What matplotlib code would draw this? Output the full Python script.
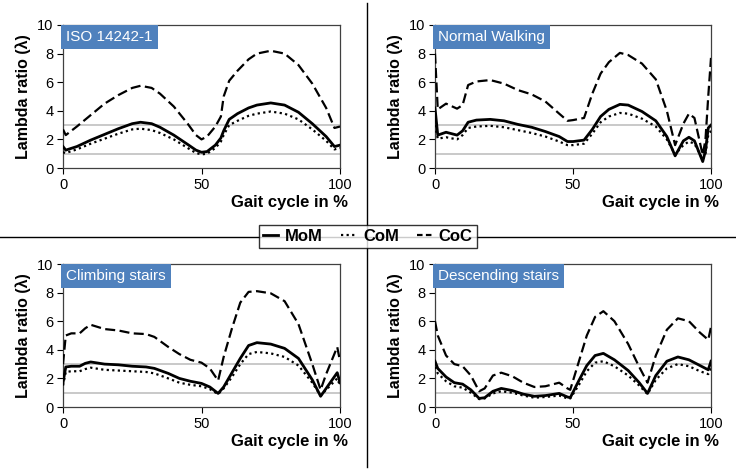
import matplotlib
matplotlib.use("Agg")
import matplotlib.pyplot as plt
from matplotlib.lines import Line2D

plt.rcParams['font.family'] = ['Liberation Sans', 'DejaVu Sans']

# ISO 14242-1
iso_x = [0, 1, 5, 10, 15, 20, 25, 28, 32, 35, 40, 45, 48, 50, 52, 55, 57, 58, 60, 63, 67, 70, 75, 80, 85, 90, 95, 98, 100]
iso_mom = [1.5, 1.25, 1.5, 1.95, 2.35, 2.75, 3.1, 3.2, 3.1, 2.85, 2.3, 1.65, 1.25, 1.1, 1.15, 1.6, 2.1, 2.6, 3.4, 3.8, 4.2, 4.4, 4.55, 4.4, 3.9, 3.1, 2.2, 1.5, 1.6]
iso_com = [1.1, 1.05, 1.3, 1.7, 2.05, 2.4, 2.7, 2.75, 2.65, 2.45, 2.0, 1.4, 1.05, 0.95, 1.0, 1.4, 1.85, 2.3, 3.0, 3.3, 3.65, 3.8, 3.95, 3.8, 3.4, 2.7, 1.9, 1.3, 1.4]
iso_coc = [2.7, 2.3, 2.9, 3.7, 4.5, 5.1, 5.6, 5.75, 5.6, 5.2, 4.3, 3.1, 2.3, 2.0, 2.2, 2.9, 3.6, 5.0, 6.1, 6.8, 7.6, 8.0, 8.2, 8.0, 7.2, 5.9, 4.2, 2.8, 2.9]

# Normal Walking
walk_x = [0, 1, 4, 8, 10, 12, 15, 20, 25, 30, 35, 40, 45, 48, 50, 54, 57, 60, 63, 67, 70, 75, 80, 84, 87, 90, 92, 94, 97, 98, 99, 100]
walk_mom = [4.2, 2.3, 2.5, 2.3, 2.6, 3.2, 3.35, 3.4, 3.3, 3.05, 2.85, 2.55, 2.2, 1.85, 1.85, 1.95, 2.7, 3.6, 4.1, 4.45, 4.4, 3.95, 3.3, 2.2, 0.85, 1.9, 2.15, 1.9, 0.45, 1.2, 2.8, 3.0]
walk_com = [3.0, 2.05, 2.15, 2.0, 2.3, 2.8, 2.9, 2.95, 2.85, 2.65, 2.45, 2.2, 1.85, 1.6, 1.6, 1.7, 2.4, 3.2, 3.6, 3.85, 3.8, 3.45, 2.9, 2.0, 0.95, 1.6, 1.85, 1.7, 0.6, 1.0, 2.3, 2.6]
walk_coc = [8.0, 4.1, 4.5, 4.15, 4.4, 5.8, 6.05, 6.15, 5.9, 5.45, 5.15, 4.65, 3.8, 3.3, 3.35, 3.5, 5.2, 6.6, 7.4, 8.05, 7.9, 7.3, 6.2, 4.0, 1.6, 3.1, 3.8, 3.5, 0.9, 2.0, 5.0, 7.7]

# Climbing stairs
up_x = [0, 1, 3, 6, 8, 10, 15, 20, 25, 30, 33, 38, 42, 46, 50, 53, 56, 58, 61, 64, 67, 70, 75, 80, 85, 90, 93, 95, 99, 100]
up_mom = [1.7, 2.8, 2.85, 2.85, 3.05, 3.15, 3.0, 2.95, 2.85, 2.8, 2.7, 2.35, 2.0, 1.8, 1.65, 1.4, 0.95, 1.4, 2.4, 3.4, 4.3, 4.5, 4.4, 4.1, 3.4, 1.9, 0.75, 1.3, 2.4, 1.7]
up_com = [1.5, 2.45, 2.5, 2.5, 2.65, 2.75, 2.6, 2.55, 2.5, 2.45, 2.35, 2.0, 1.7, 1.55, 1.45, 1.25, 0.9, 1.3, 2.1, 3.0, 3.7, 3.85, 3.75, 3.5, 2.9, 1.7, 0.8, 1.2, 2.0, 1.5]
up_coc = [3.0, 5.0, 5.15, 5.15, 5.5, 5.75, 5.45, 5.35, 5.15, 5.1, 4.9, 4.2, 3.7, 3.3, 3.1, 2.7, 1.85, 3.5, 5.5, 7.3, 8.05, 8.1, 7.95, 7.4, 5.8, 3.0, 1.2, 2.3, 4.2, 3.2]

# Descending stairs
down_x = [0, 1, 4, 7, 10, 13, 16, 18, 21, 24, 28, 32, 36, 40, 45, 48, 49, 52, 55, 58, 61, 65, 70, 74, 77, 80, 84, 88, 92, 96, 99, 100]
down_mom = [3.2, 2.7, 2.1, 1.7, 1.6, 1.2, 0.6, 0.65, 1.1, 1.3, 1.15, 0.9, 0.75, 0.8, 0.95, 0.7, 0.65, 1.8, 2.9, 3.6, 3.75, 3.3, 2.55, 1.7, 0.95, 2.2, 3.2, 3.5, 3.3, 2.9, 2.6, 3.2]
down_com = [2.8, 2.35, 1.8, 1.45, 1.35, 1.0, 0.55, 0.6, 0.95, 1.1, 1.0, 0.8, 0.65, 0.7, 0.8, 0.6, 0.6, 1.5, 2.5, 3.1, 3.2, 2.85, 2.2, 1.5, 0.9, 1.9, 2.7, 3.0, 2.85, 2.5, 2.3, 2.7]
down_coc = [6.0, 5.0, 3.6, 3.0, 2.85, 2.2, 1.1, 1.3, 2.2, 2.4, 2.15, 1.7, 1.4, 1.45, 1.7, 1.3, 1.2, 3.1, 5.0, 6.3, 6.7, 6.0, 4.4, 2.8, 1.7, 3.6, 5.4, 6.2, 6.0, 5.2, 4.7, 5.6]

titles = ['ISO 14242-1', 'Normal Walking', 'Climbing stairs', 'Descending stairs']
panels = [
    (iso_x, iso_mom, iso_com, iso_coc),
    (walk_x, walk_mom, walk_com, walk_coc),
    (up_x, up_mom, up_com, up_coc),
    (down_x, down_mom, down_com, down_coc),
]

W, H = 736, 473
fig = plt.figure(figsize=(W / 100, H / 100), dpi=100)

# axes boxes in pixels: left, top, right, bottom
boxes = [(63, 25, 340, 168), (435, 25, 711, 168),
         (63, 264, 340, 407), (435, 264, 711, 407)]

for (l, t, r, b), title, (x, mom, com, coc) in zip(boxes, titles, panels):
    ax = fig.add_axes([l / W, 1 - b / H, (r - l) / W, (b - t) / H])
    ax.axhline(1, color='#c0c0c0', lw=1.2, zorder=1)
    ax.axhline(3, color='#c0c0c0', lw=1.2, zorder=1)
    ax.plot(x, mom, color='black', lw=2.0, ls='-', zorder=3)
    ax.plot(x, com, color='black', lw=1.6, ls=(0, (1, 1.5)), zorder=3)
    ax.plot(x, coc, color='black', lw=1.6, ls=(0, (4.5, 2)), zorder=3)
    ax.set_xlim(0, 100)
    ax.set_ylim(0, 10)
    ax.set_xticks([0, 50, 100])
    ax.set_yticks([0, 2, 4, 6, 8, 10])
    ax.tick_params(direction='out', length=4, width=0.8, labelsize=10.5, pad=3)
    for s in ax.spines.values():
        s.set_color('#404040')
        s.set_linewidth(0.9)
    ax.set_ylabel('Lambda ratio (λ)', fontsize=11.5, fontweight='bold', labelpad=4)
    ax.text(1.03, -0.24, 'Gait cycle in %', transform=ax.transAxes,
            ha='right', va='center', fontsize=12, fontweight='bold')
    ax.text(0.012, 0.965, title, transform=ax.transAxes, ha='left', va='top',
            color='white', fontsize=11,
            bbox=dict(facecolor='#4f81bd', edgecolor='none', pad=3.5))

# divider lines
fig.add_artist(Line2D([367 / W, 367 / W], [1 - 3 / H, 1 - 467 / H],
                      transform=fig.transFigure, color='black', lw=1))
fig.add_artist(Line2D([0, 1], [1 - 237 / H, 1 - 237 / H],
                      transform=fig.transFigure, color='black', lw=1))

handles = [Line2D([], [], color='black', lw=2.0, ls='-'),
           Line2D([], [], color='black', lw=1.6, ls=(0, (1, 1.5))),
           Line2D([], [], color='black', lw=1.6, ls=(0, (2.5, 1.5)))]
leg = fig.legend(handles, ['MoM', 'CoM', 'CoC'], loc='center',
                 bbox_to_anchor=(368 / W, 1 - 236.5 / H), ncol=3,
                 frameon=True, fancybox=False, edgecolor='black',
                 handlelength=0.9, handletextpad=0.4, columnspacing=1.1,
                 borderpad=0.25, prop={'weight': 'bold', 'size': 12})
leg.get_frame().set_linewidth(1)
leg.set_zorder(10)

fig.savefig('out.png', dpi=100)
